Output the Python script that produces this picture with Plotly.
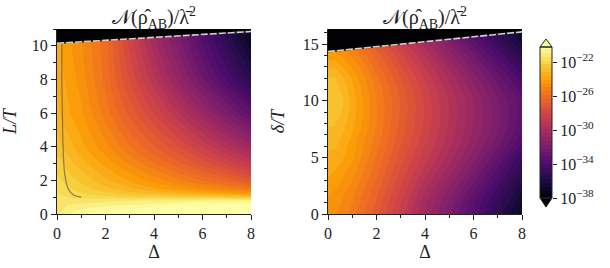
import plotly.graph_objects as go

delta_left = [0, 0.25, 0.5, 1, 2, 3, 4, 5, 6, 7, 8]
L_values = [0, 0.2, 0.5, 0.8, 1.0, 1.2, 1.5, 2, 3, 4, 6, 8, 10, 11]
log_neg_left = [
    [-21.6, -21.2, -20.9, -20.5, -20.2, -20.1, -20.1, -20.1, -20.1, -20.1, -20.1],
    [-21.6, -21.3, -21.0, -20.8, -20.5, -20.3, -20.2, -20.1, -20.1, -20.1, -20.1],
    [-21.6, -21.5, -21.3, -21.2, -21.0, -20.8, -20.6, -20.4, -20.3, -20.2, -20.2],
    [-21.7, -21.6, -21.6, -21.6, -21.5, -21.4, -21.3, -21.2, -21.1, -21.0, -21.0],
    [-21.7, -21.7, -21.8, -21.9, -22.1, -22.2, -22.3, -22.4, -22.5, -22.6, -22.8],
    [-21.8, -21.9, -22.0, -22.2, -22.5, -22.9, -23.1, -23.4, -23.7, -24.0, -24.3],
    [-21.9, -22.0, -22.2, -22.5, -23.0, -23.5, -24.0, -24.4, -24.9, -25.3, -25.7],
    [-22.1, -22.3, -22.5, -22.8, -23.5, -24.1, -24.7, -25.3, -25.9, -26.5, -27.2],
    [-22.5, -22.7, -23.0, -23.4, -24.2, -25.0, -25.8, -26.6, -27.4, -28.2, -29.0],
    [-22.9, -23.2, -23.4, -23.9, -24.8, -25.8, -26.7, -27.6, -28.6, -29.6, -30.6],
    [-23.4, -23.8, -24.0, -24.4, -25.6, -26.9, -28.1, -29.4, -30.7, -32.0, -33.3],
    [-23.6, -24.0, -24.2, -24.7, -26.0, -27.7, -29.3, -30.9, -32.5, -34.0, -35.5],
    [-23.8, -24.2, -24.4, -24.9, -26.1, -28.2, -30.1, -31.8, -33.5, -35.1, -36.8],
    [-23.9, -24.3, -24.5, -25.0, -26.3, -28.4, -30.4, -32.2, -33.9, -35.6, -37.3],
]

delta_right = [0, 0.25, 0.5, 1, 2, 3, 4, 5, 6, 7, 8]
delta_T_values = [0, 1, 2, 3.5, 5, 6.5, 8, 10, 12, 14, 15, 16.4]
log_neg_right = [
    [-24.8, -24.9, -25.1, -25.6, -27.0, -28.7, -30.4, -32.0, -33.6, -35.3, -37.0],
    [-24.6, -24.7, -24.9, -25.4, -26.8, -28.5, -30.2, -31.8, -33.4, -35.0, -36.7],
    [-24.4, -24.5, -24.7, -25.2, -26.6, -28.2, -29.9, -31.4, -33.0, -34.6, -36.2],
    [-24.0, -24.1, -24.3, -24.8, -26.2, -27.8, -29.3, -30.7, -32.2, -33.8, -35.5],
    [-23.7, -23.8, -23.9, -24.4, -25.9, -27.4, -28.8, -30.1, -31.5, -33.0, -34.8],
    [-23.4, -23.4, -23.6, -24.2, -25.6, -27.1, -28.4, -29.7, -31.0, -32.3, -33.8],
    [-23.1, -23.1, -23.3, -23.9, -25.4, -26.9, -28.2, -29.5, -30.8, -32.0, -33.4],
    [-22.7, -22.7, -22.9, -23.8, -25.4, -26.8, -28.2, -29.5, -30.8, -32.1, -33.3],
    [-23.1, -23.1, -23.4, -24.1, -25.7, -27.2, -28.6, -30.0, -31.4, -32.8, -34.2],
    [-24.3, -24.3, -24.5, -25.0, -26.5, -28.0, -29.5, -31.0, -32.5, -34.0, -35.5],
    [-25.0, -25.0, -25.2, -25.7, -27.1, -28.6, -30.1, -31.6, -33.2, -34.7, -36.2],
    [-25.9, -25.9, -26.1, -26.6, -28.0, -29.5, -31.0, -32.5, -34.1, -35.6, -37.1],
]

boundary_delta = [0, 8]
boundary_left = [10.15, 10.85]
boundary_right = [14.35, 16.1]
ymax_left = 11
ymax_right = 16.35

curve_delta = [0.2, 0.2, 0.22, 0.24, 0.27, 0.3, 0.35, 0.42, 0.55, 0.72, 1.0]
curve_L = [10.1, 8, 6, 4.5, 3.3, 2.6, 2.1, 1.65, 1.3, 1.1, 1.0]

cbar_ticks = [-22, -26, -30, -34, -38]
cbar_labels = ["10<sup>−22</sup>", "10<sup>−26</sup>", "10<sup>−30</sup>", "10<sup>−34</sup>", "10<sup>−38</sup>"]
x_ticks = [0, 2, 4, 6, 8]
title_text = "𝒩(ρ̂<sub>AB</sub>)/λ̄<sup>2</sup>"

Z_MIN, Z_MAX, Z_STEP = -38, -20.2, 0.45
cbar_levels = [Z_MIN + Z_STEP * (i + 0.5) for i in range(int((Z_MAX - Z_MIN) / Z_STEP) + 1)]

FONT = "Liberation Serif"
INK = "#222222"
W, H = 610, 268

fig = go.Figure()

contour_style = dict(
    colorscale="Inferno", zmin=Z_MIN, zmax=Z_MAX, showscale=False,
    contours=dict(coloring="fill", start=Z_MIN, end=Z_MAX, size=Z_STEP, showlines=False),
    line=dict(width=0, smoothing=1.0),
    hoverinfo="skip",
)

fig.add_trace(go.Contour(x=delta_left, y=L_values, z=log_neg_left, xaxis="x", yaxis="y", **contour_style))
fig.add_trace(go.Contour(x=delta_right, y=delta_T_values, z=log_neg_right, xaxis="x2", yaxis="y2", **contour_style))

fig.add_trace(go.Heatmap(
    x=[0], y=cbar_levels, z=[[v] for v in cbar_levels], xaxis="x3", yaxis="y3",
    colorscale="Inferno", zmin=Z_MIN, zmax=Z_MAX, showscale=False, hoverinfo="skip"))

for xa, ya, top, ymax in (("x", "y", boundary_left, ymax_left), ("x2", "y2", boundary_right, ymax_right)):
    fig.add_trace(go.Scatter(
        x=[boundary_delta[0], boundary_delta[1], boundary_delta[1], boundary_delta[0]],
        y=[top[0], top[1], ymax, ymax], mode="lines", fill="toself",
        fillcolor="#020104", line=dict(width=0), xaxis=xa, yaxis=ya, showlegend=False, hoverinfo="skip"))
    fig.add_trace(go.Scatter(x=boundary_delta, y=top, mode="lines", line=dict(color="#202020", width=1.6),
                             xaxis=xa, yaxis=ya, showlegend=False, hoverinfo="skip"))
    fig.add_trace(go.Scatter(x=boundary_delta, y=top, mode="lines",
                             line=dict(color="#d0d0d0", width=1.6, dash="7px,2px"),
                             xaxis=xa, yaxis=ya, showlegend=False, hoverinfo="skip"))

fig.add_trace(go.Scatter(x=curve_delta, y=curve_L, mode="lines", line=dict(color="rgba(90,90,90,0.7)", width=1.2, shape="spline"),
                         xaxis="x", yaxis="y", showlegend=False, hoverinfo="skip"))


def axis_style(title, major, minor, rng, domain, anchor, standoff):
    return dict(
        range=rng, domain=domain, anchor=anchor,
        title=dict(text=title, font=dict(family=FONT, size=18, color=INK), standoff=standoff),
        tickfont=dict(family=FONT, size=16, color=INK),
        tickmode="array", tickvals=major,
        ticks="outside", ticklen=5, tickwidth=1, tickcolor=INK,
        minor=dict(dtick=minor, ticks="outside", ticklen=3, tickwidth=1, tickcolor=INK, showgrid=False),
        showline=True, linecolor=INK, linewidth=1, mirror=False,
        showgrid=False, zeroline=False, automargin=False,
    )


ydom = [(H - 214) / H, (H - 29) / H]
fig.update_layout(
    width=W, height=H, autosize=False,
    margin=dict(l=0, r=0, t=0, b=0, autoexpand=False),
    paper_bgcolor="white", plot_bgcolor="white", showlegend=False,
    xaxis=axis_style("Δ", x_ticks, 1, [0, 8], [57 / W, 251 / W], "y", 3),
    yaxis=axis_style("<i>L/T</i>", [0, 2, 4, 6, 8, 10], 1, [0, ymax_left], ydom, "x", 13),
    xaxis2=axis_style("Δ", x_ticks, 1, [0, 8], [328 / W, 522 / W], "y2", 3),
    yaxis2=axis_style("<i>δ/T</i>", [0, 5, 10, 15], 1, [0, ymax_right], ydom, "x2", 13),
    xaxis3=dict(domain=[540 / W, 552 / W], anchor="y3", visible=False, range=[-0.5, 0.5]),
    yaxis3=dict(domain=[(H - 198) / H, (H - 47) / H], anchor="x3", side="right", range=[Z_MIN, Z_MAX],
                tickmode="array", tickvals=cbar_ticks, ticktext=cbar_labels,
                ticks="outside", ticklen=4, tickwidth=1, tickcolor=INK,
                tickfont=dict(family=FONT, size=16, color=INK),
                showgrid=False, zeroline=False, showline=False, automargin=False),
    annotations=[
        dict(text=title_text, x=154 / W, y=(H - 18) / H, xref="paper", yref="paper", xanchor="center", yanchor="middle",
             showarrow=False, font=dict(family=FONT, size=20, color=INK)),
        dict(text=title_text, x=425 / W, y=(H - 18) / H, xref="paper", yref="paper", xanchor="center", yanchor="middle",
             showarrow=False, font=dict(family=FONT, size=20, color=INK)),
    ],
    shapes=[
        dict(type="path", xref="paper", yref="paper",
             path=f"M {540/W} {(H-47)/H} L {546/W} {(H-39)/H} L {552/W} {(H-47)/H} Z",
             fillcolor="#fcffa4", line=dict(color=INK, width=1)),
        dict(type="path", xref="paper", yref="paper",
             path=f"M {540/W} {(H-198)/H} L {546/W} {(H-207)/H} L {552/W} {(H-198)/H} Z",
             fillcolor="#000004", line=dict(color=INK, width=1)),
        dict(type="rect", xref="paper", yref="paper", x0=540 / W, x1=552 / W, y0=(H - 198) / H, y1=(H - 47) / H,
             line=dict(color=INK, width=1), fillcolor="rgba(0,0,0,0)", layer="above"),
    ],
)

fig.write_html("out.html", config={"displayModeBar": False},
               post_script="document.body.style.margin='0';document.body.style.overflow='hidden';")
